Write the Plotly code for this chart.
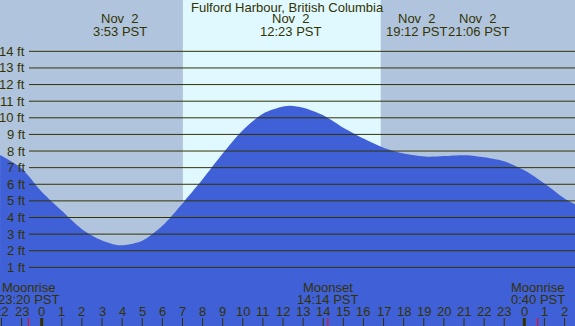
import plotly.graph_objects as go

# ---------------- data ----------------
title_text = "Fulford Harbour, British Columbia"

# tide curve (hours relative to midnight Nov 2, feet)
tide_hours = [-2.07, -1.0, 0, 1, 2, 3, 3.88, 5, 6, 7, 8, 9, 10, 11, 12, 12.38,
              13, 14, 15, 16, 17, 18, 19.2, 20, 21.1, 22, 23, 24, 25, 26, 26.52]
tide_feet = [7.76, 6.95, 5.55, 4.4, 3.3, 2.62, 2.33, 2.6, 3.5, 4.85, 6.3, 7.85,
             9.25, 10.25, 10.68, 10.72, 10.6, 10.15, 9.4, 8.75, 8.2, 7.85, 7.66,
             7.7, 7.75, 7.62, 7.38, 6.85, 6.05, 5.15, 4.8]

# high / low events shown at top
event_hours = [3.88, 12.38, 19.2, 21.1]
event_dates = ["Nov  2", "Nov  2", "Nov  2", "Nov  2"]
event_times = ["3:53 PST", "12:23 PST", "19:12 PST", "21:06 PST"]

# moon events
moon_hours = [-0.667, 14.233, 24.667]
moon_names = ["Moonrise", "Moonset", "Moonrise"]
moon_times = ["23:20 PST", "14:14 PST", "0:40 PST"]

# daylight
sunrise_h = 7.02
sunset_h = 16.86

# axes
hour_ticks = list(range(-2, 27))
feet_ticks = list(range(1, 15))
X_RANGE = [-2.074, 26.52]
Y_RANGE = [-2.53, 17.09]

# ---------------- style ----------------
W, H = 575, 326
NIGHT = "#B0C4DE"
DAY = "#E0F8FF"
FILL = "#4060D8"
INK = "#333300"
FONT = "Liberation Sans"
FS = 13


def py(px):
    """pixel row -> paper y"""
    return 1 - px / H


fig = go.Figure()

# baseline at axis bottom, then tide filled down to it
fig.add_trace(go.Scatter(x=[X_RANGE[0], X_RANGE[1]], y=[Y_RANGE[0], Y_RANGE[0]],
                         mode="lines", line=dict(width=0), hoverinfo="skip",
                         showlegend=False))
fig.add_trace(go.Scatter(x=tide_hours, y=tide_feet, mode="lines",
                         line=dict(color=FILL, width=0, shape="spline", smoothing=0.8),
                         fill="tonexty", fillcolor=FILL, showlegend=False))

shapes = []
# daylight band
shapes.append(dict(type="rect", xref="x", yref="paper", x0=sunrise_h, x1=sunset_h,
                   y0=0, y1=1, fillcolor=DAY, line=dict(width=0), layer="below"))
# horizontal grid lines
for v in feet_ticks:
    shapes.append(dict(type="line", xref="paper", yref="y", x0=29 / W, x1=1,
                       y0=v, y1=v, line=dict(color=INK, width=1), layer="above"))
# hour ticks
for h in hour_ticks:
    wdt = 3 if h % 24 == 0 else 1
    shapes.append(dict(type="line", xref="x", yref="paper", x0=h, x1=h,
                       y0=0, y1=py(318), line=dict(color=INK, width=wdt), layer="above"))
# moon ticks
for h in moon_hours:
    shapes.append(dict(type="line", xref="x", yref="paper", x0=h, x1=h,
                       y0=0, y1=py(318), line=dict(color="red", width=1), layer="above"))

ann = []
font = dict(family=FONT, size=FS, color=INK)
# title
ann.append(dict(text=title_text, x=287 / W, y=py(8), xref="paper", yref="paper",
                showarrow=False, xanchor="center", yanchor="middle", font=font))
# y labels
for v in feet_ticks:
    ann.append(dict(text=f"{v} ft", x=27 / W, y=v, xref="paper", yref="y",
                    showarrow=False, xanchor="right", yanchor="middle", font=font))
# hour labels
for h in hour_ticks:
    ann.append(dict(text=str(h % 24), x=h, y=py(311.5), xref="x", yref="paper",
                    showarrow=False, xanchor="center", yanchor="middle", font=font))
# event labels
shifts = [0, 0, -11, 12]
for h, d, t, s in zip(event_hours, event_dates, event_times, shifts):
    ann.append(dict(text=d.replace(" ", "\u00a0"), x=h, y=py(18), xref="x", yref="paper",
                    xshift=s, showarrow=False, xanchor="center", yanchor="middle", font=font))
    ann.append(dict(text=t, x=h, y=py(31), xref="x", yref="paper", xshift=s,
                    showarrow=False, xanchor="center", yanchor="middle", font=font))
# moon labels
for h, n, t in zip(moon_hours, moon_names, moon_times):
    ann.append(dict(text=n, x=h, y=py(287), xref="x", yref="paper",
                    showarrow=False, xanchor="center", yanchor="middle", font=font))
    ann.append(dict(text=t, x=h, y=py(299.5), xref="x", yref="paper",
                    showarrow=False, xanchor="center", yanchor="middle", font=font))

fig.update_layout(
    width=W, height=H, autosize=False,
    margin=dict(l=0, r=0, t=0, b=0, pad=0),
    paper_bgcolor=NIGHT, plot_bgcolor=NIGHT,
    xaxis=dict(range=X_RANGE, visible=False, fixedrange=True),
    yaxis=dict(range=Y_RANGE, visible=False, fixedrange=True),
    shapes=shapes, annotations=ann, showlegend=False,
)

fig.write_html("out.html", config={"displayModeBar": False},
               post_script="document.body.style.margin='0px';document.body.style.overflow='hidden';")
